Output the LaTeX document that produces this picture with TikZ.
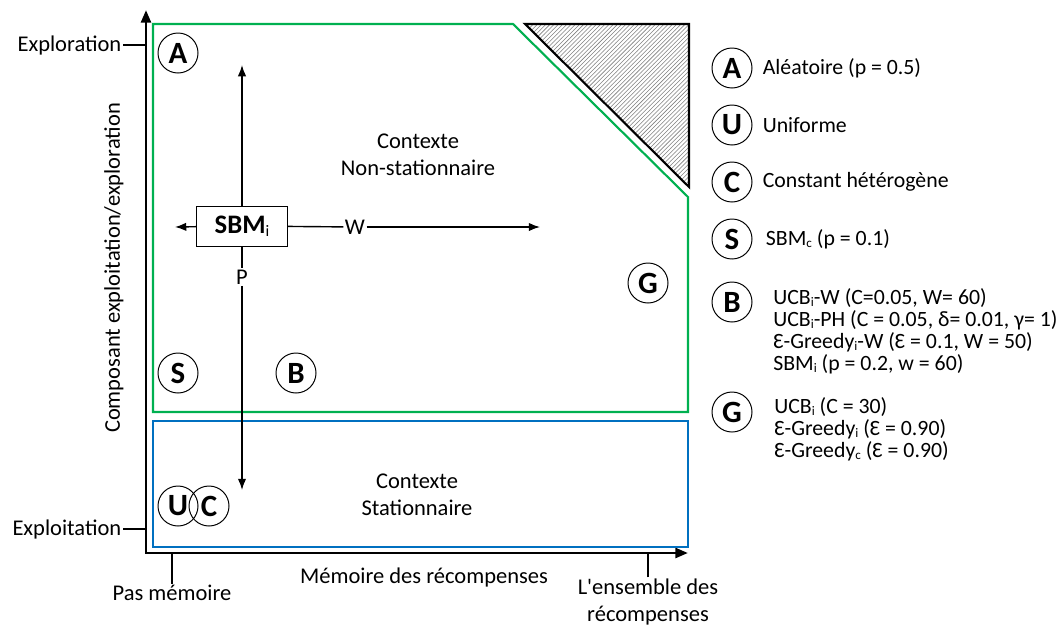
\documentclass[tikz,border=0pt]{standalone}
\usepackage{fontspec}
\usepackage{graphicx}
\setmainfont{Carlito}
\usetikzlibrary{arrows.meta, patterns, positioning}
\definecolor{vertctx}{RGB}{0,176,80}
\definecolor{bleuctx}{RGB}{0,112,192}
\newcommand\ind[1]{\raisebox{-0.2ex}{\scalebox{0.6}{#1}}}

\begin{document}
\begin{tikzpicture}[x=0.025cm, y=-0.025cm, font=\fontsize{16}{19}\selectfont,
    lettre/.style = {draw, circle, line width=0.7pt, minimum size=1cm, inner sep=0pt, font=\fontsize{22}{22}\selectfont\bfseries},
    axe/.style = {line width=2pt},
    graduation/.style = {line width=1.5pt},
    fleche/.style = {-{Latex[length=8pt, width=6pt]}, line width=1pt},
    legende/.style = {align=left, inner sep=0pt, font=\fontsize{15.5}{15.6}\selectfont}]
    \useasboundingbox (0,0) rectangle (1064,625);

    % axes
    \coordinate (O) at (146,553);
    \coordinate (haut) at (146,10);
    \coordinate (droite) at (688,553);
    \draw[axe, {Triangle[length=9pt, width=7pt]}-{Triangle[length=9pt, width=7pt]}] (haut) -- (O) -- (droite);

    \node[anchor=east, inner sep=1pt] (explo) at (123,45) {Exploration};
    \node[anchor=east, inner sep=1pt] (exploit) at (123,529) {Exploitation};
    \draw[graduation] (explo) -- (explo -| O);
    \draw[graduation] (exploit) -- (exploit -| O);

    \node[inner sep=1pt] (pasmem) at (172,593) {Pas mémoire};
    \node[align=center, inner sep=1pt] (ensemble) at (648,602) {L\textquotesingle ensemble des\\récompenses};
    \draw[graduation] (pasmem) -- (pasmem |- O);
    \draw[graduation] (ensemble) -- (ensemble |- O);

    \node (memoire) at (424,577) {Mémoire des récompenses};
    \node[rotate=90] (composant) at (114,268) {Composant exploitation/exploration};

    % contextes
    \draw[line width=1.5pt, vertctx] (153,24) -- (513,24) -- (688,197) -- (688,412) -- (153,412) -- cycle;
    \draw[line width=1.5pt, bleuctx] (153,421) rectangle (688,547);
    \draw[line width=1.5pt, pattern=north east lines, pattern color=gray] (525,24) -- (689,24) -- (689,187) -- cycle;

    \node[align=center] (nonstat) at (418,155) {Contexte\\Non-stationnaire};
    \node[align=center] (stat) at (417,495) {Contexte\\Stationnaire};

    % strategies
    \node[lettre] (A) at (178,53) {A};
    \node[lettre] (S) at (178,373) {S};
    \node[lettre] (B) at (296,373) {B};
    \node[lettre] (U) at (178,506) {U};
    \node[lettre] (C) at (209,506) {C};
    \node[lettre] (G) at (648,283) {G};

    % SBM_i
    \node[draw, line width=0.7pt, minimum width=2.275cm, minimum height=1cm, font=\fontsize{19}{19}\selectfont] (sbm) at (242,226) {\textbf{SBM}\ind{i}};
    \node[inner sep=1pt] (P) at (242,277) {P};
    \node[inner sep=1pt] (W) at (355,227) {W};
    \coordinate (pN) at (242,65);
    \coordinate (pS) at (242,490);
    \coordinate (pO) at (175,227);
    \coordinate (pE) at (540,227);
    \draw[fleche] (sbm) -- (pN);
    \draw[fleche] (sbm) -- (pO);
    \draw[line width=1pt] (sbm) -- (P);
    \draw[fleche] (P) -- (pS);
    \draw[line width=1pt] (sbm) -- (W);
    \draw[fleche] (W) -- (pE);

    % legende
    \node[lettre] (lA) at (732,68) {A};
    \node[lettre] (lU) [below=0.4cm of lA] {U};
    \node[lettre] (lC) [below=0.4cm of lU] {C};
    \node[lettre] (lS) [below=0.4cm of lC] {S};
    \node[lettre] (lB) [below=0.55cm of lS] {B};
    \node[lettre] (lG) [below=1.725cm of lB] {G};

    \node[legende, anchor=west] (tA) [right=0.25cm of lA] {Aléatoire (p = 0.5)};
    \node[legende, anchor=west] (tU) [right=0.25cm of lU] {Uniforme};
    \node[legende, anchor=west] (tC) [right=0.25cm of lC] {Constant hétérogène};
    \node[legende, anchor=west] (tS) [right=0.33cm of lS] {SBM\ind{c} (p = 0.1)};
    \node[legende, anchor=north west] (tB) at (773,288) {UCB\ind{i}-W (C=0.05, W= 60)\\UCB\ind{i}-PH (C = 0.05, δ= 0.01, γ= 1)\\Ɛ-Greedy\ind{i}-W (Ɛ = 0.1, W = 50)\\SBM\ind{i} (p = 0.2, w = 60)};
    \node[legende, anchor=north west] (tG) at (774,397) {UCB\ind{i} (C = 30)\\Ɛ-Greedy\ind{i} (Ɛ = 0.90)\\Ɛ-Greedy\ind{c} (Ɛ = 0.90)};
\end{tikzpicture}
\end{document}
